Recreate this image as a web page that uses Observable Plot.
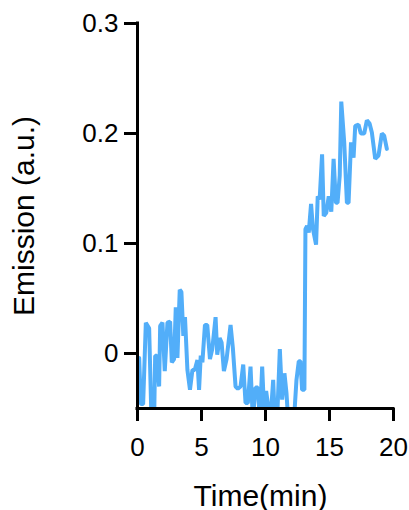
<!DOCTYPE html>
<html>
<head>
<meta charset="utf-8">
<script src="https://cdn.jsdelivr.net/npm/d3@7"></script>
<script src="https://cdn.jsdelivr.net/npm/@observablehq/plot@0.6"></script>
<style>
  html, body { margin: 0; padding: 0; background: #fff; }
  #chart { width: 409px; height: 510px; }
</style>
</head>
<body>
<div id="chart"></div>
<script>
// Time (min)
const time = [0.13,0.26,0.44,0.65,0.91,1.09,1.30,1.38,1.51,1.69,1.77,1.95,2.13,2.34,2.55,2.68,2.86,2.99,3.12,3.30,3.43,3.58,3.71,3.90,4.10,4.29,4.47,4.68,4.81,4.94,5.07,5.27,5.45,5.66,5.84,6.10,6.23,6.42,6.57,6.75,6.96,7.27,7.45,7.66,7.84,8.05,8.26,8.44,8.62,8.83,9.01,9.22,9.40,9.56,9.74,9.92,10.05,10.21,10.39,10.60,10.73,10.91,11.12,11.30,11.48,11.64,11.77,11.95,12.20,12.42,12.60,12.73,12.86,13.04,13.12,13.25,13.38,13.56,13.71,13.95,14.08,14.23,14.42,14.55,14.75,14.94,15.14,15.32,15.50,15.63,15.80,15.92,16.15,16.36,16.49,16.68,16.88,17.01,17.27,17.45,17.71,17.92,18.13,18.31,18.57,18.83,19.09,19.27,19.48];
// Emission (a.u.)
const emission = [-0.004,-0.046,-0.046,0.028,0.023,-0.06,-0.06,-0.002,-0.002,-0.030,0.025,0.028,-0.016,0.028,0.029,-0.008,-0.005,0.042,-0.004,0.058,0.056,0.016,0.033,-0.015,-0.033,-0.015,-0.015,-0.006,-0.033,-0.002,-0.008,0.026,0.026,-0.005,0.004,0.033,-0.001,0.014,0.010,-0.016,-0.005,0.026,0.005,-0.030,-0.032,-0.030,-0.010,-0.045,-0.045,-0.012,-0.06,-0.031,-0.031,-0.06,-0.012,-0.06,-0.034,-0.048,-0.06,-0.024,-0.06,-0.06,0.004,-0.042,-0.018,-0.036,-0.06,-0.065,-0.065,-0.024,-0.007,-0.007,-0.033,-0.033,0.113,0.116,0.110,0.136,0.113,0.099,0.143,0.140,0.181,0.125,0.128,0.143,0.129,0.177,0.137,0.137,0.162,0.229,0.192,0.137,0.137,0.192,0.178,0.207,0.208,0.200,0.200,0.212,0.209,0.201,0.177,0.180,0.200,0.198,0.186];
const xTicks = [0, 5, 10, 15, 20];
const yTicks = [0, 0.1, 0.2, 0.3];
const xLabel = "Time(min)";
const yLabel = "Emission (a.u.)";

const data = time.map((t, i) => ({t, v: emission[i]}));
const font = "'Liberation Sans', Arial, Helvetica, sans-serif";
const blue = "#52aef9";

const chart = Plot.plot({
  width: 409,
  height: 510,
  marginLeft: 137,
  marginRight: 16,
  marginTop: 23,
  marginBottom: 102,
  style: {fontFamily: font, background: "#fff", color: "#000"},
  x: {domain: [0, 20]},
  y: {domain: [-0.05, 0.3]},
  marks: [
    Plot.line(data, {x: "t", y: "v", stroke: blue, strokeWidth: 4, strokeLinejoin: "miter", clip: true}),
    Plot.ruleX([0], {y1: -0.05, y2: 0.3, stroke: "#000", strokeWidth: 3, strokeLinecap: "square"}),
    Plot.ruleY([-0.05], {x1: 0, x2: 20, stroke: "#000", strokeWidth: 3, strokeLinecap: "square"}),
    Plot.axisY({ticks: yTicks, tickSize: 13, tickPadding: 6, strokeWidth: 3, fontSize: 26, fill: "#000", tickFormat: d => String(d), label: null}),
    Plot.axisX({ticks: xTicks, tickSize: 13, tickPadding: 16, strokeWidth: 3, fontSize: 26, fill: "#000", tickFormat: d => String(d), label: null}),
    Plot.text([yLabel], {frameAnchor: "left", text: d => d, rotate: -90, dx: -113, dy: 0, textAnchor: "middle", lineAnchor: "middle", fontSize: 30, fill: "#000"}),
    Plot.text([xLabel], {frameAnchor: "bottom", text: d => d, dx: -5, dy: 97, textAnchor: "middle", lineAnchor: "bottom", fontSize: 30, fill: "#000"})
  ]
});
document.getElementById("chart").appendChild(chart);
</script>
</body>
</html>
